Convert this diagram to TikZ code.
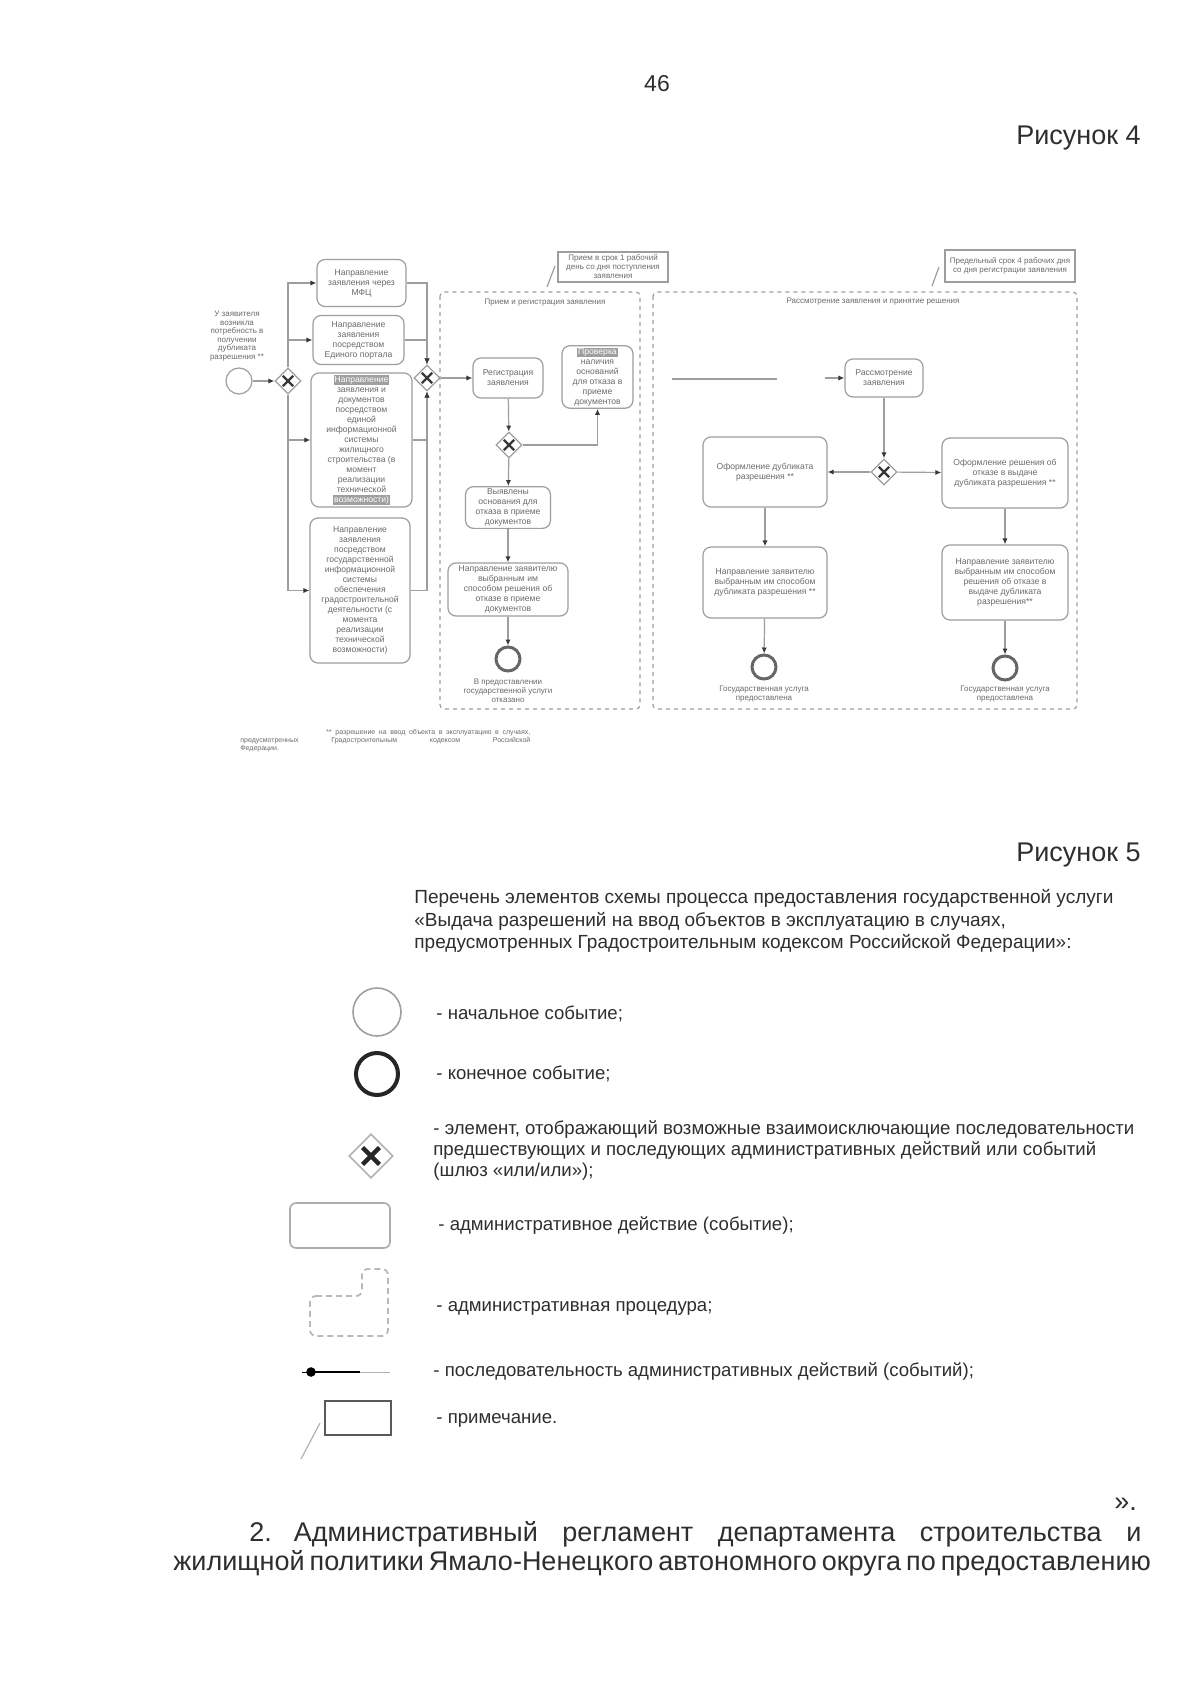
\documentclass[tikz,border=0pt]{standalone}
\usepackage{fontspec}
\setmainfont{Liberation Sans}
\usetikzlibrary{arrows.meta,shapes.geometric,calc}
\definecolor{ln}{gray}{0.62}
\definecolor{tx}{gray}{0.42}
\definecolor{dk}{gray}{0.22}
\definecolor{bt}{gray}{0.18}
\newcommand\dgfont{\fontsize{4.3}{5}\selectfont}
\newcommand\smfont{\fontsize{4}{4.5}\selectfont}
\newcommand\fnfont{\fontsize{3.5}{4}\selectfont}
\newcommand\hl[1]{{\setlength\fboxsep{0.4pt}\colorbox{gray!75}{\textcolor{white}{#1}}}}
\begin{document}
\begin{tikzpicture}[x=0.5pt,y=-0.5pt,
  act/.style={draw=ln, line width=0.6pt, rounded corners=4pt, fill=white, text=tx, align=center, font=\dgfont, inner sep=1pt},
  gw/.style={draw=ln, line width=0.6pt, diamond, aspect=1, minimum width=13pt, minimum height=13pt, inner sep=0pt, fill=white,
    path picture={\draw[dk, line width=1.1pt] ($(path picture bounding box.center)+(-2.6pt,-2.6pt)$) -- ($(path picture bounding box.center)+(2.6pt,2.6pt)$);
                  \draw[dk, line width=1.1pt] ($(path picture bounding box.center)+(-2.6pt,2.6pt)$) -- ($(path picture bounding box.center)+(2.6pt,-2.6pt)$);}},
  startev/.style={draw=ln, line width=0.6pt, circle, minimum size=13pt, inner sep=0pt, fill=white},
  endev/.style={draw=gray!80!black, line width=1.5pt, circle, minimum size=12pt, inner sep=0pt, fill=white},
  pool/.style={draw=ln, line width=0.6pt, dashed, dash pattern=on 2pt off 2pt, rounded corners=2pt},
  notebox/.style={draw=ln, line width=0.6pt, text=tx, align=center, font=\smfont, inner sep=1pt},
  flow/.style={draw=ln, line width=0.6pt, -{Latex[length=3pt,width=2.6pt,color=dk]}},
  lbl/.style={text=tx, align=center, font=\smfont, inner sep=0pt},
  fntext/.style={text=tx, font=\fnfont, inner sep=0pt, anchor=base west},
  bodytext/.style={text=bt, inner sep=0pt},
  legtext/.style={text=bt, inner sep=0pt, font=\fontsize{9.3}{10.6}\selectfont, align=left}
]
\useasboundingbox (0,0) rectangle (1200,1696);
\fill[white] (0,0) rectangle (1200,1696);

% page headings
\node[bodytext, font=\fontsize{11.5}{13}\selectfont] (pnum) at (657,84) {46};
\node[bodytext, font=\fontsize{13.5}{15}\selectfont, anchor=east] (fig4) at (1141,138) {Рисунок 4};

% ---------- diagram ----------
\draw[pool] (440,292) rectangle (640,709);
\draw[pool] (653,292) rectangle (1077,709);
\node[lbl] (p1t) at (545,303) {Прием и регистрация заявления};
\node[lbl] (p2t) at (873,302) {Рассмотрение заявления и принятие решения};

% notes
\node[notebox, minimum width=55pt, minimum height=15pt] (n1note) at (613,267) {Прием в срок 1 рабочий\\день со дня поступления\\заявления};
\coordinate (l1a) at (547,287); \coordinate (l1b) at (555,266);
\draw[ln, line width=0.6pt] (l1a) -- (l1b);
\node[notebox, minimum width=65pt, minimum height=16pt] (n2note) at (1010,266) {Предельный срок 4 рабочих дня\\со дня регистрации заявления};
\coordinate (l2a) at (932,286); \coordinate (l2b) at (939,267);
\draw[ln, line width=0.6pt] (l2a) -- (l2b);

% start
\node[startev] (st) at (239,381) {};
\node[lbl, font=\fontsize{4}{4.3}\selectfont] (stt) at (237,336) {У заявителя\\возникла\\потребность в\\получении\\дубликата\\разрешения **};
\node[gw] (gw1) at (288,381) {};

% left boxes
\node[act, minimum width=44.5pt, minimum height=23.5pt] (b1) at (361.5,283) {Направление\\заявления через\\МФЦ};
\node[act, minimum width=45.5pt, minimum height=24.5pt] (b2) at (358.5,340) {Направление\\заявления\\посредством\\Единого портала};
\node[act, minimum width=50.5pt, minimum height=67pt] (b3) at (361.5,440) {\hl{Направление}\\заявления и\\документов\\посредством\\единой\\информационной\\системы\\жилищного\\строительства (в\\момент\\реализации\\технической\\\hl{возможности)}};
\node[act, minimum width=50pt, minimum height=72.5pt] (b4) at (360,590.5) {Направление\\заявления\\посредством\\государственной\\информационной\\системы\\обеспечения\\градостроительной\\деятельности (с\\момента\\реализации\\технической\\возможности)};
\node[gw] (gw2) at (427,378) {};

\draw[flow] (st) -- (gw1);
\draw[flow] (gw1.north) |- (b1.west);
\draw[flow] (gw1.north) |- (b2.west);
\draw[flow] (gw1.south) |- (b3.west);
\draw[flow] (gw1.south) |- (b4.west);
\draw[flow] (b1.east) -| (gw2.north);
\draw[flow] (b2.east) -| (gw2.north);
\draw[flow] (b3.east) -| (gw2.south);
\draw[flow] (b4.east) -| (gw2.south);

% pool 1
\node[act, minimum width=35pt, minimum height=20pt] (reg) at (508,378) {Регистрация\\заявления};
\node[act, minimum width=35.5pt, minimum height=30pt] (chk) at (597.5,377) {\hl{Проверка}\\наличия\\оснований\\для отказа в\\приеме\\документов};
\node[gw] (gw3) at (509,445) {};
\node[act, minimum width=42.5pt, minimum height=20.5pt] (vy) at (508,507.5) {Выявлены\\основания для\\отказа в приеме\\документов};
\node[act, minimum width=60pt, minimum height=26.5pt] (nr1) at (508,589.5) {Направление заявителю\\выбранным им\\способом решения об\\отказе в приеме\\документов};
\node[endev] (e1) at (508,659) {};
\node[lbl] (e1t) at (508,691) {В предоставлении\\государственной услуги\\отказано};

\draw[flow] (gw2) -- (reg);
\draw[flow] (reg) -- (gw3);
\draw[flow] (gw3.east) -| (chk.south);
\draw[flow] (gw3) -- (vy);
\draw[flow] (vy) -- (nr1);
\draw[flow] (nr1) -- (e1);

% pool 2
\coordinate (fa) at (672,379); \coordinate (fb) at (777,379); \coordinate (fc) at (825,378);
\draw[ln, line width=0.6pt] (fa) -- (fb);
\node[act, minimum width=39pt, minimum height=19pt] (rs) at (884,378) {Рассмотрение\\заявления};
\draw[flow] (fc) -- (rs.west);
\node[gw] (gw4) at (884,472) {};
\node[act, minimum width=62pt, minimum height=35pt] (od) at (765,472) {Оформление дубликата\\разрешения **};
\node[act, minimum width=63pt, minimum height=35pt] (oo) at (1005,473) {Оформление решения об\\отказе в выдаче\\дубликата разрешения **};
\node[act, minimum width=62pt, minimum height=35.5pt] (nd) at (765,582.5) {Направление заявителю\\выбранным им способом\\дубликата разрешения **};
\node[act, minimum width=63pt, minimum height=37.5pt] (no) at (1005,582.5) {Направление заявителю\\выбранным им способом\\решения об отказе в\\выдаче дубликата\\разрешения**};
\node[endev] (e2) at (764,667) {};
\node[endev] (e3) at (1005,668) {};
\node[lbl] (e2t) at (764,694) {Государственная услуга\\предоставлена};
\node[lbl] (e3t) at (1005,694) {Государственная услуга\\предоставлена};

\draw[flow] (rs) -- (gw4);
\draw[flow] (gw4) -- (od);
\draw[flow] (gw4) -- (oo);
\draw[flow] (od) -- (nd);
\draw[flow] (oo) -- (no);
\draw[flow] (nd) -- (e2);
\draw[flow] (no) -- (e3);

% footnote
\node[fntext] (fn1) at (326,734) {\makebox[102pt][s]{** разрешение на ввод объекта в эксплуатацию в случаях,}};
\node[fntext] (fn2) at (240,742) {\makebox[145pt][s]{предусмотренных Градостроительным кодексом Российской}};
\node[fntext] (fn3) at (240,750) {Федерации.};

% ---------- legend ----------
\node[bodytext, font=\fontsize{13.5}{15}\selectfont, anchor=east] (fig5) at (1141,855) {Рисунок 5};
\node[bodytext, font=\fontsize{9.5}{11.3}\selectfont, anchor=north west, align=left] (lt) at (414,889) {Перечень элементов схемы процесса предоставления государственной услуги\\«Выдача разрешений на ввод объектов в эксплуатацию в случаях,\\предусмотренных Градостроительным кодексом Российской Федерации»:};

\node[draw=gray!75, line width=0.8pt, circle, minimum size=24pt, inner sep=0pt] (lst) at (377,1012) {};
\node[legtext, anchor=west] (lstt) at (436,1014) {- начальное событие;};
\node[draw=gray!30!black, line width=2pt, circle, minimum size=21pt, inner sep=0pt] (len) at (377,1074) {};
\node[legtext, anchor=west] (lent) at (436,1074) {- конечное событие;};
\node[draw=gray!60, line width=0.8pt, diamond, aspect=1, minimum width=22pt, minimum height=22pt, inner sep=0pt,
  path picture={\draw[black!85, line width=2.2pt] ($(path picture bounding box.center)+(-4.2pt,-4.2pt)$) -- ($(path picture bounding box.center)+(4.2pt,4.2pt)$);
                \draw[black!85, line width=2.2pt] ($(path picture bounding box.center)+(-4.2pt,4.2pt)$) -- ($(path picture bounding box.center)+(4.2pt,-4.2pt)$);}] (lgw) at (371,1156) {};
\node[legtext, anchor=north west] (lgwt) at (433,1120) {- элемент, отображающий возможные взаимоисключающие последовательности\\предшествующих и последующих административных действий или событий\\(шлюз «или/или»);};
\draw[gray!65, line width=0.8pt, rounded corners=3pt] (290,1203) rectangle (390,1248);
\node[legtext, anchor=west] (lactt) at (438,1226) {- административное действие (событие);};
\draw[gray!55, line width=0.9pt, dashed, dash pattern=on 3pt off 2pt, rounded corners=3pt] (310,1296) -- (362,1296) -- (362,1269) -- (388,1269) -- (388,1336) -- (310,1336) -- cycle;
\node[legtext, anchor=west] (lprt) at (436,1308) {- административная процедура;};
\coordinate (lfa) at (302,1372); \coordinate (lfb) at (311,1372); \coordinate (lfc) at (360,1372); \coordinate (lfd) at (390,1372);
\draw[black, line width=0.5pt] (lfa) -- (lfb);
\draw[black, line width=0.9pt] (lfb) -- (lfc);
\draw[gray!60, line width=0.5pt] (lfc) -- (lfd);
\fill[black] (lfb) circle (2.4pt);
\node[legtext, anchor=west] (lflt) at (433,1372) {- последовательность административных действий (событий);};
\node[draw=gray!70!black, line width=0.8pt, minimum width=33pt, minimum height=17pt, inner sep=0pt] (lnote) at (358,1418) {};
\coordinate (lna) at (320,1423); \coordinate (lnb) at (301,1459);
\draw[gray!60, line width=0.6pt] (lna) -- (lnb);
\node[legtext, anchor=west] (lnt) at (436,1420) {- примечание.};

% ---------- bottom text ----------
\node[bodytext, font=\fontsize{13.5}{15}\selectfont, anchor=base west] (quote) at (1114,1510) {».};
\node[bodytext, font=\fontsize{13.5}{15}\selectfont, anchor=base west] (par1) at (249,1541) {\makebox[446pt][l]{2.\hspace{11pt}Административный\hfill регламент\hfill департамента\hfill строительства\hfill и}};
\node[bodytext, font=\fontsize{13.5}{15}\selectfont, anchor=base west] (par2) at (173,1570) {\makebox[485pt][s]{жилищной политики Ямало-Ненецкого автономного округа по предоставлению}};
\end{tikzpicture}
\end{document}
